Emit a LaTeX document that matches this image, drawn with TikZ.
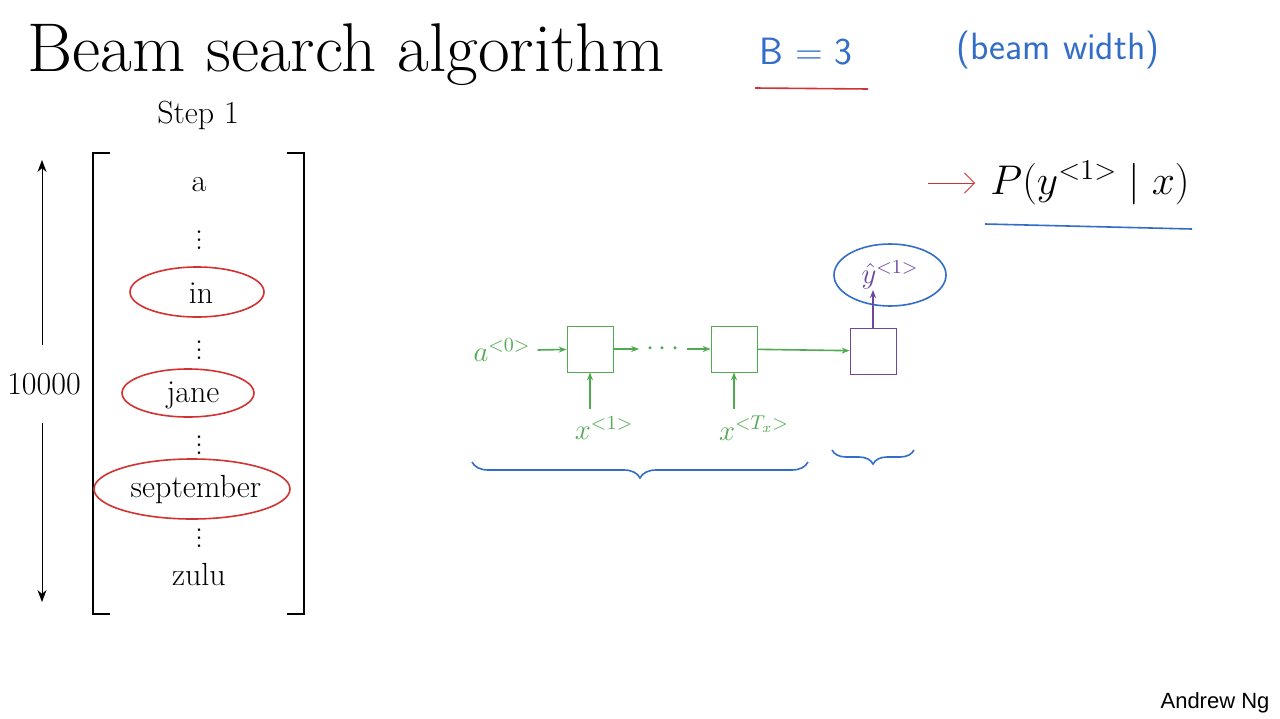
\documentclass[tikz,border=0pt]{standalone}
\usepackage{fontspec}
\newfontfamily\ngfont{Liberation Sans}
\usetikzlibrary{arrows.meta,decorations.pathreplacing,shapes.geometric}
\definecolor{gr}{RGB}{80,170,80}
\definecolor{pu}{RGB}{110,70,160}
\definecolor{bl}{RGB}{50,110,200}
\definecolor{rd}{RGB}{210,50,50}
\tikzset{word/.style={font=\fontsize{16}{18}\selectfont,inner sep=1pt},
 gbox/.style={draw=gr,minimum size=23pt,inner sep=0pt},
 garr/.style={gr,-{Stealth[length=4pt]},thick},
 ring/.style={draw=rd,thick,ellipse},
 hand/.style={bl,font=\fontsize{19}{22}\sffamily\selectfont}}
\begin{document}
\begin{tikzpicture}[x=0.5pt,y=-0.5pt]
\useasboundingbox[fill=white] (0,0) rectangle (1280,718);
\node[font=\fontsize{34.5}{40}\selectfont] (title) at (346,55) {Beam search algorithm};
\node[hand] (B) at (806,52) {B = 3};
\draw[rd,thick] (755,88) -- (868,89);
\node[hand,font=\fontsize{19}{22}\sffamily\selectfont] (bw) at (1058,50) {(beam width)};
\node[font=\fontsize{22}{26}\selectfont] (P) at (1090,183) {$P(y^{<1>}\mid x)$};
\coordinate (pa) at (928,183);
\coordinate (pe) at (975,183);
\draw[rd,-{Straight Barb[length=5pt]}] (pa) -- (pe);
\draw[bl,thick] (985,224) -- (1192,229);
\node[word] (step) at (198,115) {Step 1};
\draw[thick] (110,153) -- (93,153) -- (93,614) -- (110,614);
\draw[thick] (287,153) -- (304,153) -- (304,614) -- (287,614);
\node[word] (a) at (199,185) {a};
\node[word] (d1) at (199,234) {$\vdots$};
\node[word] (in) at (201,293) {in};
\node[word] (d2) at (199,344) {$\vdots$};
\node[word] (jane) at (193,395) {jane};
\node[word] (d3) at (199,439) {$\vdots$};
\node[word] (sep) at (196,490) {september};
\node[word] (d4) at (199,532) {$\vdots$};
\node[word] (zulu) at (199,575) {zulu};
\node[ring,minimum width=67pt,minimum height=25pt] (rin) at (197,292) {};
\node[ring,minimum width=66pt,minimum height=24pt] (rjane) at (188,393) {};
\node[ring,minimum width=98pt,minimum height=30pt] (rsep) at (192,489) {};
\node[word] (n) at (44,384) {10000};
\coordinate (t) at (42,160); \coordinate (b) at (42,602);
\draw[-{Stealth[length=6pt]}] (42,345) -- (t);
\draw[-{Stealth[length=6pt]}] (42,423) -- (b);
\node[gbox] (b1) at (590,349) {};
\node[gbox] (b2) at (734,349) {};
\node[gbox,draw=pu] (b3) at (873,351) {};
\node[gr,font=\fontsize{14}{16}\selectfont] (a0) at (502,350) {$a^{<0>}$};
\node[gr,font=\fontsize{14}{16}\selectfont] (dots) at (663,349) {$\cdots$};
\draw[garr] (a0.east) -- (b1);
\draw[garr] (b1) -- (dots);
\draw[garr] (dots) -- (b2);
\draw[garr] (b2) -- (b3);
\node[gr,font=\fontsize{14}{16}\selectfont] (x1) at (604,428) {$x^{<1>}$};
\node[gr,font=\fontsize{14}{16}\selectfont] (xt) at (754,428) {$x^{<T_x>}$};
\draw[garr] (x1.north -| b1) -- (b1);
\draw[garr] (xt.north -| b2) -- (b2);
\node[draw=bl,thick,ellipse,minimum width=56pt,minimum height=31pt,text=pu,font=\fontsize{14}{16}\selectfont] (yh) at (890,275) {$\hat y^{<1>}$};
\draw[pu,thick,-{Stealth[length=4pt]}] (b3) -- (873,290);
\draw[bl,thick,decorate,decoration={brace,mirror,amplitude=8pt}] (472,462) -- (808,462);
\draw[bl,thick,decorate,decoration={brace,mirror,amplitude=7pt}] (832,450) -- (914,450);
\node[font=\fontsize{11}{13}\ngfont] (ng) at (1215,703) {Andrew Ng};
\end{tikzpicture}
\end{document}
